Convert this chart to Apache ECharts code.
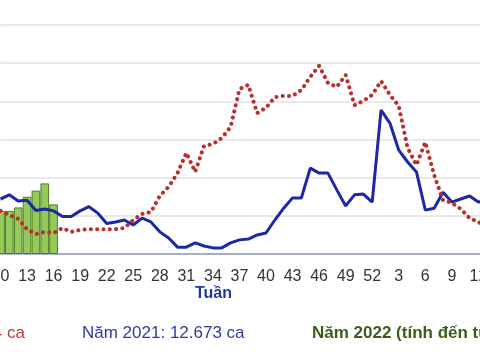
<!DOCTYPE html>
<html>
<head>
<meta charset="utf-8">
<script src="https://cdn.jsdelivr.net/npm/echarts@6/dist/echarts.min.js"></script>
<style>html,body{margin:0;padding:0;background:#fff;}#c{width:480px;height:360px;}</style>
</head>
<body>
<div id="c"></div>
<script>
// Weeks shown (2021 weeks 10..52, then 2022 weeks 1..13)
const weeks = ['10','11','12','13','14','15','16','17','18','19','20','21','22','23','24','25','26','27','28','29','30','31','32','33','34','35','36','37','38','39','40','41','42','43','44','45','46','47','48','49','50','51','52','1','2','3','4','5','6','7','8','9','10','11','12','13'];
// Red dotted series (earlier year)
const series2020 = [113,102,92,65,52,58,55,68,58,63,65,65,65,65,68,89,105,110,152,176,212,265,215,283,288,304,333,432,443,369,383,411,414,414,430,464,493,448,438,469,390,401,417,453,417,388,278,233,293,207,141,134,118,94,84,68];
// Blue line: Năm 2021
const series2021 = [144,155,139,141,114,118,113,98,98,113,124,107,80,84,89,76,94,84,58,42,18,18,29,21,16,16,29,37,39,50,55,89,120,147,147,225,212,212,168,126,155,157,136,377,343,272,241,215,115,120,162,136,144,152,136,139];
// Green bars: Năm 2022 (weeks 10..16 visible)
const series2022 = [113,113,122,150,166,185,130];
const bars = weeks.map((w, i) => i < series2022.length ? series2022[i] : null);

const FONT = 'Liberation Sans, Arial, sans-serif';
const chart = echarts.init(document.getElementById('c'), null, {renderer: 'canvas'});
chart.setOption({
  animation: false,
  backgroundColor: '#ffffff',
  grid: {left: 0.5, right: -7.25, top: -13.2, bottom: 106, containLabel: false, outerBoundsMode: 'none'},
  xAxis: {
    type: 'category',
    data: weeks,
    boundaryGap: false,
    axisLine: {lineStyle: {color: '#8e9cb4', width: 1.5}},
    axisTick: {show: false},
    axisLabel: {interval: 2, color: '#333333', fontSize: 16, fontFamily: FONT, margin: 15, hideOverlap: false},
    splitLine: {show: false}
  },
  yAxis: {
    type: 'value',
    min: 0, max: 700, interval: 100,
    axisLine: {show: false},
    axisTick: {show: false},
    axisLabel: {show: false},
    splitLine: {lineStyle: {color: '#e2e2e2', width: 1.5}}
  },
  series: [
    {
      type: 'bar', data: bars, barCategoryGap: '2%',
      itemStyle: {color: '#95c95a', borderColor: '#4f7d2c', borderWidth: 1},
      z: 1
    },
    {
      type: 'line', data: series2021, showSymbol: false,
      lineStyle: {color: '#1b2aa3', width: 3}, z: 3
    },
    {
      type: 'line', data: series2020, showSymbol: false,
      lineStyle: {color: '#b8302b', width: 4, type: [0.1, 6.2], cap: 'round'}, z: 4
    }
  ],
  graphic: [
    {type: 'text', x: 213.5, y: 294, style: {text: 'Tuần', font: 'bold 16px ' + FONT, fill: '#1f3a9f', align: 'center', verticalAlign: 'middle'}},
    {type: 'text', x: 25, y: 333, style: {text: '4 ca', font: '17px ' + FONT, fill: '#c0392b', align: 'right', verticalAlign: 'middle'}},
    {type: 'text', x: 82, y: 333, style: {text: 'Năm 2021: 12.673 ca', font: '17px ' + FONT, fill: '#2c3d9c', align: 'left', verticalAlign: 'middle'}},
    {type: 'text', x: 312, y: 333, style: {text: 'Năm 2022 (tính đến tuần 16)', font: 'bold 17px ' + FONT, fill: '#3d5c1a', align: 'left', verticalAlign: 'middle'}}
  ]
});
</script>
</body>
</html>
